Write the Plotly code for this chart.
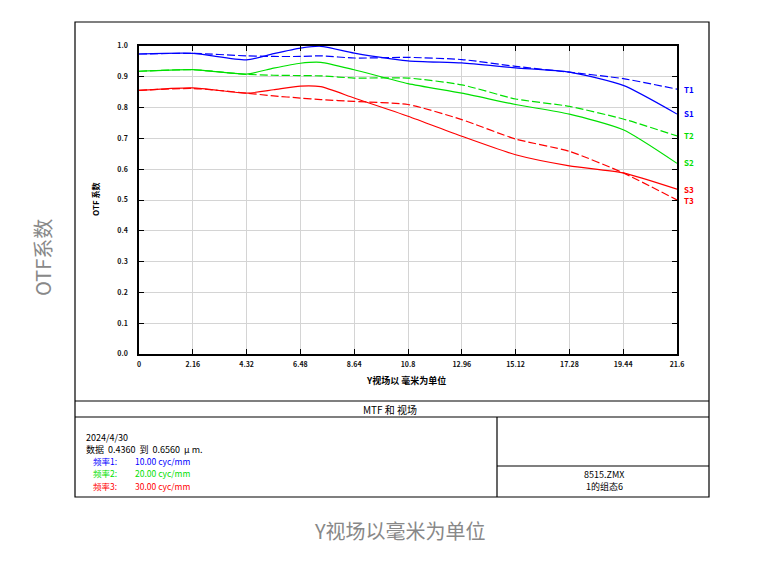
import plotly.graph_objects as go

# ---- data ----
field = [0, 2.16, 4.32, 5.4, 6.48, 7.3, 8.64, 10.8, 12.96, 15.12, 17.28, 19.44, 21.6]

s1 = [0.974, 0.976, 0.955, 0.975, 0.993, 0.999, 0.977, 0.952, 0.945, 0.929, 0.915, 0.872, 0.779]
t1 = [0.974, 0.976, 0.968, 0.966, 0.966, 0.968, 0.961, 0.963, 0.956, 0.934, 0.915, 0.894, 0.860]
s2 = [0.918, 0.923, 0.909, 0.928, 0.944, 0.947, 0.923, 0.878, 0.847, 0.810, 0.779, 0.728, 0.619]
t2 = [0.918, 0.923, 0.908, 0.905, 0.904, 0.903, 0.896, 0.896, 0.874, 0.828, 0.804, 0.763, 0.708]
s3 = [0.856, 0.864, 0.847, 0.858, 0.870, 0.868, 0.831, 0.772, 0.707, 0.647, 0.611, 0.588, 0.535]
t3 = [0.856, 0.862, 0.847, 0.838, 0.831, 0.826, 0.820, 0.810, 0.761, 0.698, 0.658, 0.588, 0.500]

x_ticks = [0, 2.16, 4.32, 6.48, 8.64, 10.8, 12.96, 15.12, 17.28, 19.44, 21.6]
x_tick_labels = ["0", "2.16", "4.32", "6.48", "8.64", "10.8", "12.96", "15.12", "17.28", "19.44", "21.6"]
y_ticks = [0.0, 0.1, 0.2, 0.3, 0.4, 0.5, 0.6, 0.7, 0.8, 0.9, 1.0]
y_tick_labels = ["0.0", "0.1", "0.2", "0.3", "0.4", "0.5", "0.6", "0.7", "0.8", "0.9", "1.0"]

series = [
    ("T1", t1, "#0000ff", "dash"), ("S1", s1, "#0000ff", "solid"),
    ("T2", t2, "#00e000", "dash"), ("S2", s2, "#00e000", "solid"),
    ("T3", t3, "#ff0000", "dash"), ("S3", s3, "#ff0000", "solid"),
]

OFF = 8  # page body margin
W, H = 757 - OFF, 566 - OFF
L, R, T, B = 139, 677, 46, 354  # plot area in reference pixels

def px(x):
    return (x - L) / (R - L)

def py(y):
    return (B - y) / (B - T)

fig = go.Figure()
for name, vals, col, dash in series:
    fig.add_trace(go.Scatter(
        x=field, y=vals, mode="lines", name=name,
        line=dict(color=col, width=1.2, dash="8px,3px" if dash == "dash" else "solid",
                  shape="spline", smoothing=0.6),
        showlegend=False, hoverinfo="skip"))

CJK = "Noto Sans CJK SC"
tickfont = dict(family=CJK, size=7, color="#111111", weight="bold")

fig.update_layout(
    width=W, height=H,
    margin=dict(l=L - OFF, r=W - (R - OFF), t=T - OFF, b=H - (B - OFF), pad=0),
    paper_bgcolor="white", plot_bgcolor="white",
    xaxis=dict(range=[0, 21.6], tickvals=x_ticks, ticktext=x_tick_labels,
               showgrid=True, gridcolor="#d4d4d4", gridwidth=1,
               showline=True, linecolor="black", linewidth=1.5, mirror="ticks",
               ticks="inside", ticklen=5, tickcolor="black", tickfont=tickfont,
               ticklabelstandoff=3,
               zeroline=False, fixedrange=True),
    yaxis=dict(range=[0, 1], tickvals=y_ticks, ticktext=y_tick_labels,
               showgrid=True, gridcolor="#d4d4d4", gridwidth=1,
               showline=True, linecolor="black", linewidth=1.5, mirror="ticks",
               ticks="inside", ticklen=5, tickcolor="black", tickfont=tickfont,
               ticklabelstandoff=8,
               zeroline=False, fixedrange=True),
)

shapes = []
def rect(x0, y0, x1, y1):
    shapes.append(dict(type="rect", xref="paper", yref="paper",
                       x0=px(x0), x1=px(x1), y0=py(y0), y1=py(y1),
                       line=dict(color="black", width=1.2), layer="below"))
def hline(x0, x1, y):
    shapes.append(dict(type="line", xref="paper", yref="paper",
                       x0=px(x0), x1=px(x1), y0=py(y), y1=py(y),
                       line=dict(color="black", width=1.2)))
def vline(x, y0, y1):
    shapes.append(dict(type="line", xref="paper", yref="paper",
                       x0=px(x), x1=px(x), y0=py(y0), y1=py(y1),
                       line=dict(color="black", width=1.2)))

rect(75, 22, 709, 497)
hline(75, 709, 401)
hline(75, 709, 417)
vline(497, 417, 497)
hline(497, 709, 466)
fig.update_layout(shapes=shapes)

ann = []
def text(x, y, s, size=10, color="black", xanchor="left", angle=0, family=CJK, weight="normal", align="left"):
    ann.append(dict(x=px(x), y=py(y), xref="paper", yref="paper", text=s, showarrow=False,
                    xanchor=xanchor, yanchor="middle", textangle=angle, align=align,
                    borderpad=0,
                    font=dict(family=family, size=size, color=color, weight=weight)))

# curve end labels
text(683, 89, "T1", 8, "#0000ff", weight="bold")
text(683, 113, "S1", 8, "#0000ff", weight="bold")
text(683, 135, "T2", 8, "#00e000", weight="bold")
text(683, 162, "S2", 8, "#00e000", weight="bold")
text(683, 189, "S3", 8, "#ff0000", weight="bold")
text(683, 200, "T3", 8, "#ff0000", weight="bold")

# axis titles
text(95, 200, "OTF 系数", 8, "black", "center", -90, weight="bold")
text(406, 381, "Y视场以 毫米为单位", 9, "black", "center", weight="bold")

# bottom panel
text(390, 409, "MTF 和 视场", 10, "black", "center")
text(85, 437, "2024/4/30", 9)
text(85, 449, "数据  0.4360  到  0.6560  μ m.", 9)
text(92, 460.5, "频率1:", 8.5, "#0000ff")
text(134, 460.5, "10.00 cyc/mm", 8.5, "#0000ff")
text(92, 473, "频率2:", 8.5, "#00e000")
text(134, 473, "20.00 cyc/mm", 8.5, "#00e000")
text(92, 485.5, "频率3:", 8.5, "#ff0000")
text(134, 485.5, "30.00 cyc/mm", 8.5, "#ff0000")
text(604, 474, "8515.ZMX", 9, "black", "center")
text(604, 486, "1的组态6", 9, "black", "center")

# outer captions
text(42, 258, "OTF系数", 20, "#888888", "center", -90)
text(400, 530, "Y视场以毫米为单位", 20, "#888888", "center")

fig.update_layout(annotations=ann)
fig.write_html("out.html")
